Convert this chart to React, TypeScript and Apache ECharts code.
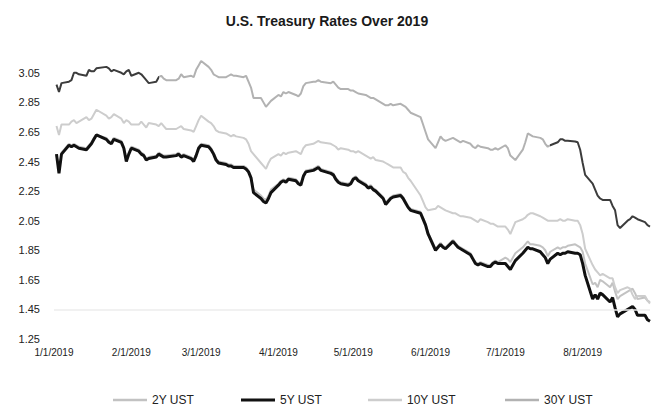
import React, { useEffect, useRef } from "react";
import * as echarts from "echarts";

const TITLE = "U.S. Treasury Rates Over 2019";
const SERIES_NAMES = ["2Y UST", "5Y UST", "10Y UST", "30Y UST"];
const START = "2019-01-01";
const END = "2019-08-28";
const HOLIDAYS = ["2019-01-21", "2019-02-18", "2019-04-19", "2019-05-27", "2019-07-04"];
const Y_TICKS = [1.25, 1.45, 1.65, 1.85, 2.05, 2.25, 2.45, 2.65, 2.85, 3.05];

// one row per trading week (Jan 2 .. Aug 28, 2019)
const ust2y = [
  2.5, 2.38, 2.51,
  2.57, 2.56, 2.57, 2.56, 2.55,
  2.54, 2.56, 2.58, 2.61, 2.63,
  2.61, 2.59, 2.58, 2.61,
  2.59, 2.55, 2.47, 2.51, 2.55,
  2.53, 2.51, 2.5, 2.47, 2.48,
  2.49, 2.51, 2.5, 2.49, 2.49,
  2.5, 2.51, 2.49, 2.5,
  2.48, 2.46, 2.5, 2.55, 2.57,
  2.56, 2.54, 2.51, 2.47, 2.45,
  2.44, 2.43, 2.43, 2.42, 2.42,
  2.42, 2.41, 2.39, 2.35, 2.26,
  2.22, 2.2, 2.19, 2.22, 2.26,
  2.3, 2.32, 2.33, 2.32, 2.34,
  2.33, 2.31, 2.3, 2.36, 2.39,
  2.4, 2.41, 2.42, 2.4,
  2.38, 2.37, 2.34, 2.32, 2.31,
  2.3, 2.31, 2.34, 2.35, 2.33,
  2.3, 2.28, 2.29, 2.27, 2.26,
  2.21, 2.17, 2.19, 2.21, 2.22,
  2.23, 2.21, 2.18, 2.15, 2.13,
  2.11, 2.07, 2.03, 1.97,
  1.86, 1.88, 1.9, 1.88, 1.87,
  1.92, 1.9, 1.88, 1.87, 1.86,
  1.83, 1.8, 1.77, 1.76, 1.77,
  1.75, 1.75, 1.77, 1.78, 1.77,
  1.8, 1.79, 1.77, 1.83,
  1.87, 1.89, 1.91, 1.89, 1.89,
  1.88, 1.87, 1.85, 1.81, 1.84,
  1.87, 1.86, 1.87, 1.87, 1.88,
  1.89, 1.88, 1.87, 1.84, 1.76,
  1.62, 1.63, 1.6, 1.65, 1.64,
  1.6, 1.63, 1.57, 1.52, 1.54,
  1.57, 1.58, 1.59, 1.56, 1.52,
  1.53, 1.51, 1.5,
];

const ust5y = [
  2.5, 2.37, 2.5,
  2.56, 2.55, 2.56, 2.55, 2.54,
  2.53, 2.55, 2.57, 2.6, 2.63,
  2.6, 2.58, 2.57, 2.6,
  2.58, 2.54, 2.45, 2.5, 2.54,
  2.52, 2.5, 2.49, 2.46, 2.47,
  2.48, 2.5, 2.49, 2.48, 2.48,
  2.49, 2.5, 2.48, 2.49,
  2.47, 2.45, 2.49, 2.54, 2.56,
  2.55, 2.53, 2.5, 2.46, 2.44,
  2.43, 2.42, 2.42, 2.41, 2.41,
  2.41, 2.4, 2.38, 2.34, 2.24,
  2.2, 2.18, 2.17, 2.2, 2.24,
  2.29, 2.31, 2.32, 2.31, 2.33,
  2.32, 2.3, 2.29, 2.35, 2.38,
  2.39, 2.4, 2.41, 2.39,
  2.37, 2.36, 2.33, 2.31, 2.3,
  2.29, 2.3, 2.33, 2.34, 2.32,
  2.29, 2.27, 2.28, 2.26, 2.25,
  2.2, 2.16, 2.18, 2.2, 2.21,
  2.22, 2.2, 2.17, 2.14, 2.12,
  2.1, 2.06, 2.02, 1.96,
  1.85, 1.87, 1.89, 1.87, 1.86,
  1.91, 1.89, 1.87, 1.86, 1.85,
  1.82, 1.79, 1.76, 1.75, 1.76,
  1.74, 1.74, 1.76, 1.77, 1.76,
  1.76, 1.74, 1.72, 1.78,
  1.83, 1.85, 1.87, 1.86, 1.86,
  1.84, 1.82, 1.8, 1.76, 1.79,
  1.83, 1.82, 1.83, 1.83, 1.84,
  1.83, 1.83, 1.82, 1.76, 1.68,
  1.52, 1.55, 1.52, 1.56, 1.55,
  1.5, 1.53, 1.46, 1.4, 1.42,
  1.45, 1.46, 1.47, 1.45, 1.41,
  1.41, 1.38, 1.37,
];

const ust10y = [
  2.69, 2.63, 2.7,
  2.7, 2.72, 2.73, 2.71, 2.72,
  2.75, 2.73, 2.74, 2.77, 2.8,
  2.76, 2.74, 2.75, 2.77,
  2.74, 2.71, 2.73, 2.72, 2.7,
  2.7, 2.72, 2.7, 2.68, 2.71,
  2.7, 2.69, 2.71, 2.69, 2.67,
  2.67, 2.68, 2.69, 2.67,
  2.66, 2.65, 2.69, 2.73, 2.76,
  2.72, 2.71, 2.69, 2.66, 2.65,
  2.64, 2.63, 2.62, 2.63, 2.62,
  2.61, 2.6, 2.57, 2.52, 2.5,
  2.44, 2.42, 2.4, 2.44, 2.47,
  2.5, 2.49, 2.51, 2.5, 2.51,
  2.52, 2.51, 2.5, 2.54, 2.56,
  2.57, 2.58, 2.59, 2.58,
  2.57, 2.56, 2.55, 2.53, 2.54,
  2.53, 2.52, 2.52, 2.51, 2.52,
  2.49, 2.48, 2.47, 2.48, 2.46,
  2.45, 2.44, 2.43, 2.42, 2.41,
  2.41, 2.38, 2.37, 2.34, 2.32,
  2.22, 2.18, 2.14, 2.12,
  2.13, 2.15, 2.14, 2.13, 2.12,
  2.1, 2.1, 2.09, 2.08, 2.08,
  2.07, 2.06, 2.05, 2.04, 2.06,
  2.04, 2.03, 2.03, 2.02, 2.01,
  2.01, 1.99, 1.96, 2.04,
  2.06, 2.07, 2.09, 2.1, 2.1,
  2.08, 2.07, 2.06, 2.05, 2.05,
  2.05, 2.06, 2.05, 2.05, 2.06,
  2.05, 2.05, 2.02, 1.96, 1.86,
  1.75, 1.72, 1.7, 1.68, 1.69,
  1.66, 1.66, 1.6, 1.56, 1.58,
  1.6, 1.59, 1.55, 1.52, 1.54,
  1.54, 1.51, 1.49,
];

const ust30y = [
  2.97, 2.92, 2.98,
  2.99, 3.0, 3.05, 3.05, 3.04,
  3.03, 3.07, 3.06, 3.06, 3.08,
  3.09, 3.08, 3.06, 3.07,
  3.05, 3.04, 3.06, 3.07, 3.03,
  3.05, 3.04, 3.02, 3.0, 2.98,
  2.99, 3.02, 3.03, 3.01, 3.0,
  3.0, 3.01, 3.04, 3.02,
  3.03, 3.02, 3.07, 3.1, 3.13,
  3.09, 3.07, 3.04, 3.03, 3.02,
  3.02, 3.03, 3.04, 3.03, 3.03,
  3.02, 3.03, 2.99, 2.95, 2.88,
  2.88, 2.85, 2.82, 2.84, 2.86,
  2.9, 2.89, 2.92, 2.91, 2.92,
  2.9, 2.89, 2.91, 2.96, 2.98,
  2.99, 2.99, 3.0, 2.99,
  2.98, 2.99, 2.97, 2.95, 2.94,
  2.94, 2.93, 2.93, 2.92, 2.91,
  2.9, 2.89, 2.88, 2.88, 2.87,
  2.84, 2.83, 2.83, 2.84, 2.83,
  2.84, 2.83, 2.82, 2.8, 2.78,
  2.75, 2.7, 2.65, 2.6,
  2.54, 2.58, 2.62, 2.6, 2.59,
  2.61, 2.6, 2.59, 2.58, 2.59,
  2.57, 2.55, 2.54, 2.56, 2.55,
  2.54, 2.53, 2.53, 2.54, 2.53,
  2.56, 2.54, 2.49, 2.46,
  2.53, 2.58, 2.64, 2.63, 2.62,
  2.61, 2.6, 2.57, 2.55, 2.56,
  2.58, 2.6, 2.6, 2.59, 2.59,
  2.585, 2.58, 2.53, 2.44, 2.36,
  2.3, 2.26, 2.22, 2.2, 2.19,
  2.19, 2.15, 2.12, 2.02, 2.0,
  2.05, 2.06, 2.08, 2.07, 2.06,
  2.04, 2.02, 2.01,
];

const COLORS = ["#c2c2c2", "#111111", "#cdcdcd", "#b2b2b2"];
const DARK_30Y = "#3c3c3c";

function isoOf(d: Date) {
  return d.toISOString().slice(0, 10);
}

function buildAxis() {
  const cats: string[] = [];
  const isoDays: string[] = [];
  const start = new Date(START + "T00:00:00Z");
  const end = new Date(END + "T00:00:00Z");
  for (let t = start.getTime(); t <= end.getTime(); t += 86400000) {
    const d = new Date(t);
    cats.push(`${d.getUTCMonth() + 1}/${d.getUTCDate()}/${d.getUTCFullYear()}`);
    isoDays.push(isoOf(d));
  }
  const trading: number[] = [];
  isoDays.forEach((iso, i) => {
    const wd = new Date(iso + "T00:00:00Z").getUTCDay();
    if (i > 0 && wd !== 0 && wd !== 6 && !HOLIDAYS.includes(iso)) trading.push(i);
  });
  return { cats, trading };
}

export default function App() {
  const ref = useRef<HTMLDivElement>(null);
  useEffect(() => {
    if (!ref.current) return;
    const chart = echarts.init(ref.current, undefined, { renderer: "svg" });
    const { cats, trading } = buildAxis();
    const place = (vals: number[]) => {
      const arr: (number | null)[] = cats.map(() => null);
      trading.forEach((ci, k) => {
        if (k < vals.length) arr[ci] = vals[k];
      });
      return arr;
    };
    const all = [ust2y, ust5y, ust10y, ust30y];
    const widths = [2, 3, 2, 2];
    const font = "Liberation Sans, Arial, sans-serif";
    const legendLefts = [111, 239, 366, 503];
    chart.setOption({
      animation: false,
      backgroundColor: "#ffffff",
      title: {
        text: TITLE,
        left: "center",
        top: 9,
        textStyle: { fontFamily: font, fontSize: 14, fontWeight: "bold", color: "#1a1a1a" },
      },
      grid: { left: 54, right: 4, top: 58, bottom: 72, containLabel: false },
      legend: SERIES_NAMES.map((n, i) => ({
        data: [{ name: n, icon: "rect", itemStyle: { color: COLORS[i] } }],
        left: legendLefts[i],
        top: 392,
        padding: 2,
        itemWidth: 34,
        itemHeight: i === 1 ? 3 : 2.5,
        itemGap: 0,
        textStyle: { fontFamily: font, fontSize: 12, color: "#222" },
      })),
      visualMap: {
        type: "piecewise",
        show: false,
        seriesIndex: 3,
        dimension: 0,
        pieces: [
          { lte: 42, color: DARK_30Y },
          { gt: 42, lt: 199, color: COLORS[3] },
          { gte: 199, color: DARK_30Y },
        ],
      },
      xAxis: {
        type: "category",
        data: cats,
        boundaryGap: false,
        axisLine: { show: false },
        axisTick: { show: false },
        splitLine: { show: false },
        axisLabel: {
          interval: (_i: number, v: string) => v.split("/")[1] === "1",
          fontFamily: font,
          fontSize: 10,
          color: "#222",
          margin: 8,
        },
      },
      yAxis: {
        type: "value",
        min: Y_TICKS[0],
        max: 3.15,
        interval: 0.2,
        axisLine: { show: false },
        axisTick: { show: false },
        splitLine: { show: false },
        axisLabel: {
          showMaxLabel: false,
          formatter: (v: number) => v.toFixed(2),
          fontFamily: font,
          fontSize: 11,
          color: "#222",
          margin: 14,
        },
      },
      series: SERIES_NAMES.map((n, i) => ({
        name: n,
        type: "line",
        data: place(all[i]),
        connectNulls: true,
        symbol: "none",
        color: COLORS[i],
        lineStyle: i === 3 ? { width: widths[i] } : { color: COLORS[i], width: widths[i] },
        z: 2 + i,
        markLine:
          i === 0
            ? {
                silent: true,
                symbol: "none",
                label: { show: false },
                lineStyle: { color: "#ececec", width: 1.5, type: "solid" },
                data: [{ yAxis: Y_TICKS[1] }],
              }
            : undefined,
      })),
    });
    return () => chart.dispose();
  }, []);
  return (
    <div
      ref={ref}
      style={{ position: "fixed", left: 0, top: 0, width: 654, height: 411, background: "#fff" }}
    />
  );
}
